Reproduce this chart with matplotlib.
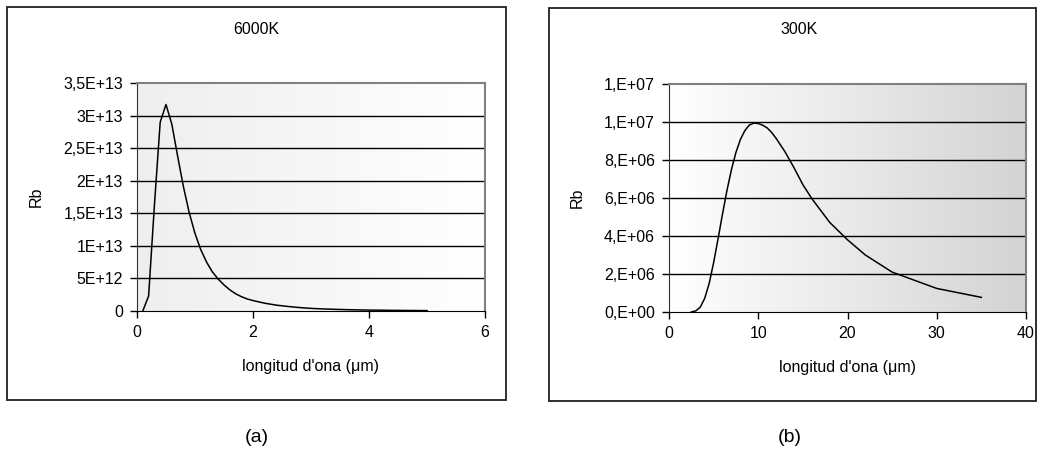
import numpy as np
import matplotlib
matplotlib.use('Agg')
import matplotlib.pyplot as plt
from matplotlib.patches import Rectangle
from matplotlib.ticker import FixedLocator, FixedFormatter

plt.rcParams['font.family'] = ['Liberation Sans', 'DejaVu Sans']

# 6000K (a)
lam_a = [0.1, 0.2, 0.3, 0.4, 0.5, 0.6, 0.7, 0.8, 0.9, 1.0,
         1.1, 1.2, 1.3, 1.4, 1.5, 1.6, 1.7, 1.8, 1.9, 2.0,
         2.2, 2.4, 2.6, 2.8, 3.0, 3.2, 3.4, 3.6, 3.8, 4.0,
         4.2, 4.4, 4.6, 4.8, 5.0]
rb_a = [0.0, 2.3e12, 1.62e13, 2.9e13, 3.17e13, 2.87e13, 2.38e13, 1.91e13, 1.51e13, 1.19e13,
        9.4e12, 7.5e12, 6.0e12, 4.9e12, 4.0e12, 3.25e12, 2.65e12, 2.2e12, 1.85e12, 1.6e12,
        1.2e12, 9.0e11, 7.0e11, 5.3e11, 4.0e11, 3.2e11, 2.6e11, 2.1e11, 1.7e11, 1.4e11,
        1.2e11, 1.0e11, 8.5e10, 7.2e10, 6.2e10]

# 300K (b)
lam_b = [2.5, 3.0, 3.5, 4.0, 4.5, 5.0, 5.5, 6.0, 6.5, 7.0, 7.5, 8.0, 8.5, 9.0, 9.5, 10.0,
         10.5, 11, 11.5, 12, 13, 14, 15, 16, 18, 20, 22, 25, 30, 35]
rb_b = [0.0, 0.06e6, 0.25e6, 0.72e6, 1.5e6, 2.6e6, 3.86e6, 5.17e6, 6.41e6, 7.5e6, 8.4e6,
        9.08e6, 9.55e6, 9.84e6, 9.94e6, 9.92e6,
        9.83e6, 9.69e6, 9.45e6, 9.14e6, 8.43e6, 7.6e6, 6.7e6, 5.97e6, 4.72e6, 3.8e6, 3.0e6,
        2.1e6, 1.24e6, 0.77e6]

yt_a = [0, 5e12, 1e13, 1.5e13, 2e13, 2.5e13, 3e13, 3.5e13]
yl_a = ['0', '5E+12', '1E+13', '1,5E+13', '2E+13', '2,5E+13', '3E+13', '3,5E+13']
xt_a = [0, 2, 4, 6]

yt_b = [0, 2e6, 4e6, 6e6, 8e6, 1e7, 1.2e7]
yl_b = ['0,E+00', '2,E+06', '4,E+06', '6,E+06', '8,E+06', '1,E+07', '1,E+07']
xt_b = [0, 10, 20, 30, 40]

fig = plt.figure(figsize=(10.4, 4.68), dpi=100)

# outer chart boxes
fig.patches.append(Rectangle((7/1040, 68/468), 499/1040, 393/468, transform=fig.transFigure,
                             fill=False, edgecolor='#202020', linewidth=1.3))
fig.patches.append(Rectangle((549/1040, 67/468), 487/1040, 393/468, transform=fig.transFigure,
                             fill=False, edgecolor='#202020', linewidth=1.3))

axa = fig.add_axes([137/1040, (468-311)/468, 348/1040, 228/468])
axb = fig.add_axes([669/1040, (468-312)/468, 357/1040, 228/468])

FS = 11.5


def style(ax, x, y, xt, yt, yl, xmax, ymax, g0, g1):
    grad = np.linspace(g0, g1, 256)
    img = np.dstack([grad, grad, grad])
    ax.imshow(img, extent=[0, 1, 0, 1], transform=ax.transAxes, aspect='auto', zorder=0)
    ax.set_xlim(0, xmax)
    ax.set_ylim(0, ymax)
    for t in yt[1:-1]:
        ax.axhline(t, color='black', linewidth=1.0, zorder=1)
    ax.plot(x, y, color='black', linewidth=1.1, zorder=3)
    ax.yaxis.set_major_locator(FixedLocator(yt))
    ax.yaxis.set_major_formatter(FixedFormatter(yl))
    ax.set_xticks(xt)
    ax.tick_params(direction='out', length=5, width=1, labelsize=FS, pad=5, colors='black')
    ax.spines['top'].set_color('#808080')
    ax.spines['right'].set_color('#808080')
    ax.spines['top'].set_linewidth(1.5)
    ax.spines['right'].set_linewidth(1.5)
    ax.spines['left'].set_color('#303030')
    ax.spines['bottom'].set_color('black')
    ax.set_xlabel("longitud d'ona (μm)", fontsize=FS, labelpad=14)
    ax.set_ylabel('Rb', fontsize=FS, labelpad=14)


style(axa, lam_a, rb_a, xt_a, yt_a, yl_a, 6, 3.5e13, 0.935, 1.0)
style(axb, lam_b, rb_b, xt_b, yt_b, yl_b, 40, 1.2e7, 1.0, 0.83)

# titles centred on the chart boxes
fig.text(256/1040, 1 - 30/468, '6000K', fontsize=FS, ha='center', va='center')
fig.text(799/1040, 1 - 30/468, '300K', fontsize=FS, ha='center', va='center')

fig.text(257/1040, 1 - 437/468, '(a)', fontsize=14, ha='center', va='center')
fig.text(790/1040, 1 - 437/468, '(b)', fontsize=14, ha='center', va='center')

plt.savefig('out.png', dpi=100)
